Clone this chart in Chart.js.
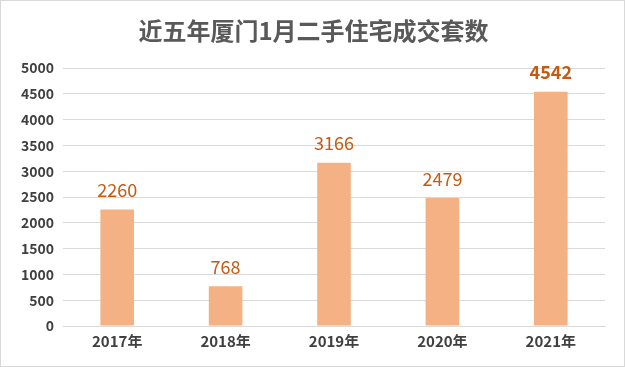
<!DOCTYPE html>
<html>
<head>
<meta charset="utf-8">
<script src="https://cdn.jsdelivr.net/npm/chart.js@4"></script>
<style>
  html, body { margin: 0; padding: 0; background: #fff; }
  #wrap { width: 623px; height: 365px; border: 1px solid #d9d9d9; position: relative; }
</style>
</head>
<body>
<div id="wrap"><canvas id="chart" width="623" height="365"></canvas></div>
<script>
var years = ["2017年", "2018年", "2019年", "2020年", "2021年"];
var deals = [2260, 768, 3166, 2479, 4542];
var yTicks = [0, 500, 1000, 1500, 2000, 2500, 3000, 3500, 4000, 4500, 5000];
var title = "近五年厦门1月二手住宅成交套数";

var FONT = "'Noto Sans CJK SC', 'Noto Sans', sans-serif";

// title centred on the whole canvas, values above each bar (last one bold)
var decorations = {
  id: "decorations",
  afterDatasetsDraw: function(chart) {
    var ctx = chart.ctx;
    var meta = chart.getDatasetMeta(0);
    ctx.save();
    ctx.textAlign = "center";
    ctx.textBaseline = "middle";
    ctx.fillStyle = "#595959";
    ctx.font = "bold 24px " + FONT;
    ctx.fillText(title, chart.width / 2 + 1, 30);

    ctx.textBaseline = "bottom";
    ctx.fillStyle = "#C55A11";
    meta.data.forEach(function(bar, i) {
      var last = i === deals.length - 1;
      ctx.font = (last ? "bold " : "") + "18px " + FONT;
      ctx.fillText(deals[i], bar.x, bar.y - 10);
    });
    ctx.restore();
  }
};

new Chart(document.getElementById("chart"), {
  type: "bar",
  data: {
    labels: years,
    datasets: [{
      data: deals,
      backgroundColor: "#F4B183",
      borderWidth: 0,
      categoryPercentage: 1,
      barPercentage: 0.31
    }]
  },
  options: {
    responsive: false,
    animation: false,
    layout: { padding: { left: 0, right: 19, top: 67, bottom: 18 } },
    plugins: {
      legend: { display: false },
      tooltip: { enabled: false },
      title: { display: false }
    },
    scales: {
      y: {
        min: 0,
        max: 5000,
        afterBuildTicks: function(scale) {
          scale.ticks = yTicks.map(function(v) { return { value: v }; });
        },
        afterFit: function(scale) { scale.width = 62; },
        grid: { color: "#d9d9d9", lineWidth: 1, drawTicks: false },
        border: { display: false },
        ticks: {
          padding: 9,
          color: "#404040",
          font: { family: FONT, size: 14, weight: "bold" },
          callback: function(v) { return String(v); }
        }
      },
      x: {
        grid: { display: false },
        border: { color: "#d9d9d9" },
        ticks: {
          padding: -2,
          color: "#404040",
          font: { family: FONT, size: 15, weight: "bold" }
        }
      }
    }
  },
  plugins: [decorations]
});
</script>
</body>
</html>
